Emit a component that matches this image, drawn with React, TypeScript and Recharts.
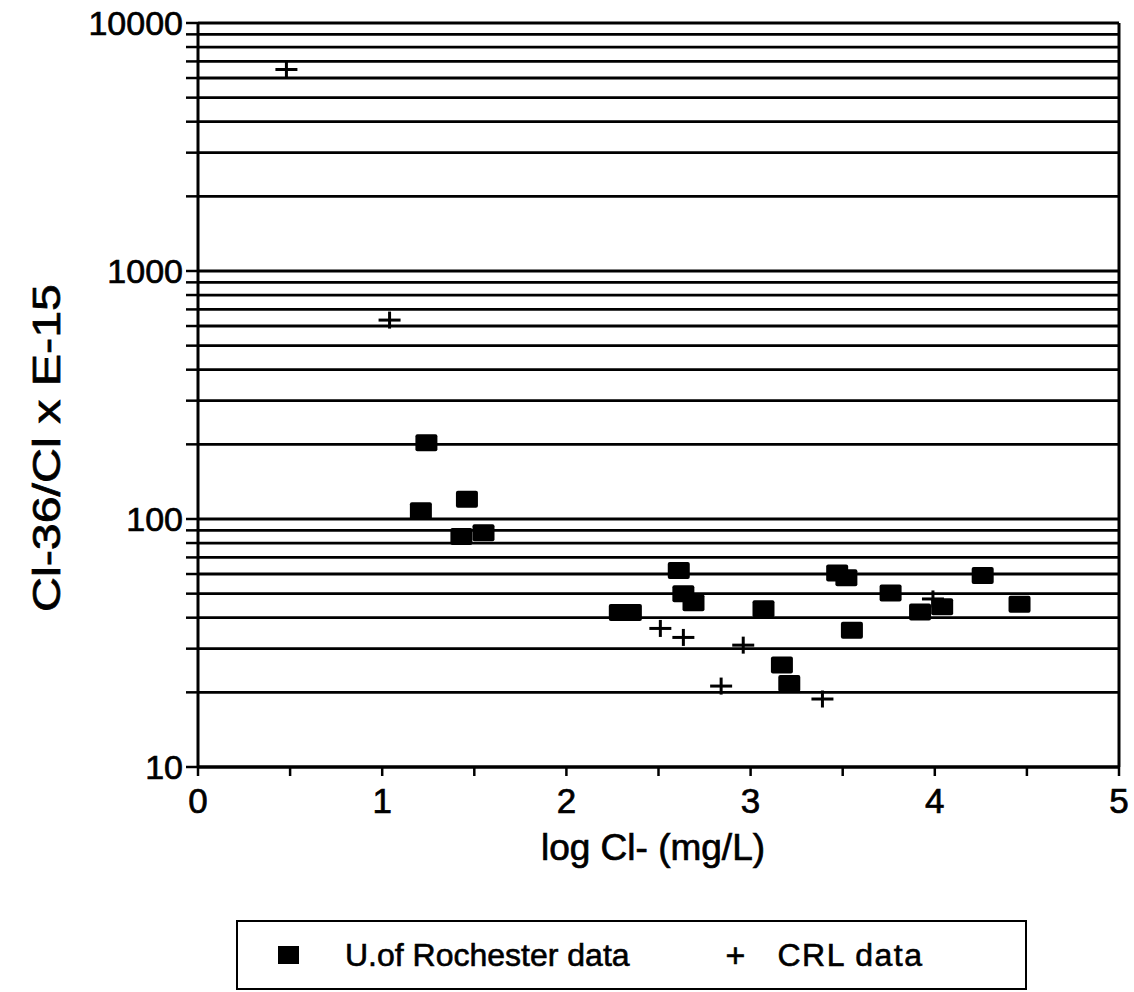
import { ScatterChart, Scatter, XAxis, YAxis, CartesianGrid, ReferenceLine } from "recharts";

// values
const rochesterX = [1.21, 1.24, 1.43, 1.46, 1.55, 2.29, 2.35, 2.61, 2.635, 2.69, 3.07, 3.17, 3.21, 3.47, 3.52, 3.55, 3.76, 3.92, 4.04, 4.26, 4.46];
const rochesterY = [108, 203, 85, 120, 88, 42, 42, 62, 50, 46, 43.5, 25.8, 21.7, 60.5, 58, 35.6, 50.3, 42.2, 44.3, 59.2, 45.3];

const crlX = [0.48, 1.04, 2.51, 2.635, 2.84, 2.96, 3.39, 3.99];
const crlY = [6500, 634, 36.2, 33.3, 21.2, 31, 18.8, 47.6];

const xTicks = [0, 0.5, 1, 1.5, 2, 2.5, 3, 3.5, 4, 4.5, 5];
const yTicks = [
  10, 20, 30, 40, 50, 60, 70, 80, 90,
  100, 200, 300, 400, 500, 600, 700, 800, 900,
  1000, 2000, 3000, 4000, 5000, 6000, 7000, 8000, 9000, 10000,
];
const yLabels = [10, 100, 1000, 10000];

const seriesNames = ["U.of Rochester data", "CRL data"];

const rochester = rochesterX.map((x, i) => ({ x, y: rochesterY[i] }));
const crl = crlX.map((x, i) => ({ x, y: crlY[i] }));

const FONT = "'Liberation Sans', Arial, Helvetica, sans-serif";
// scanned print looks a little heavier than a plain regular weight
const inkStroke = { stroke: "#000", strokeWidth: 0.7 };

const SquareMark = (props: any) => {
  const { cx, cy } = props;
  if (cx == null || cy == null) return null;
  return <rect x={cx - 11} y={cy - 8.5} width={22} height={17} rx={2} fill="#000" />;
};

const CrossMark = (props: any) => {
  const { cx, cy } = props;
  if (cx == null || cy == null) return null;
  return (
    <g stroke="#000" strokeWidth={3}>
      <line x1={cx - 11} y1={cy} x2={cx + 11} y2={cy} />
      <line x1={cx} y1={cy - 8.5} x2={cx} y2={cy + 8.5} />
    </g>
  );
};

export default function App() {
  return (
    <div style={{ position: "absolute", left: 0, top: 0, width: 1134, height: 992, background: "#fff", fontFamily: FONT }}>
      <ScatterChart width={1134} height={900} margin={{ top: 23, right: 15, bottom: 0, left: 0 }}>
        <CartesianGrid vertical={false} stroke="#000" strokeWidth={2.8} strokeOpacity={1} />
        <XAxis
          type="number"
          dataKey="x"
          domain={[0, 5]}
          ticks={xTicks}
          interval={0}
          height={133}
          axisLine={{ stroke: "#000", strokeWidth: 3 }}
          tickLine={{ stroke: "#000", strokeWidth: 2.5 }}
          tickSize={9}
          tickMargin={12}
          tick={{ fill: "#000", fontSize: 35, fontFamily: FONT, ...inkStroke }}
          tickFormatter={(v: number) => (Number.isInteger(v) ? String(v) : "")}
          label={{
            content: () => (
              <text x={653} y={860} textAnchor="middle" fontSize={37} fontFamily={FONT} fill="#000" {...inkStroke}>
                log Cl- (mg/L)
              </text>
            ),
          }}
        />
        <YAxis
          type="number"
          dataKey="y"
          scale="log"
          domain={[10, 10000]}
          allowDataOverflow
          ticks={yTicks}
          interval={0}
          width={198}
          axisLine={{ stroke: "#000", strokeWidth: 3 }}
          tickLine={{ stroke: "#000", strokeWidth: 2.5 }}
          tickSize={12}
          tickMargin={3}
          tick={{ fill: "#000", fontSize: 34, fontFamily: FONT, ...inkStroke }}
          tickFormatter={(v: number) => (yLabels.includes(v) ? String(v) : "")}
          label={{
            content: () => (
              <text
                x={0}
                y={0}
                transform="translate(60, 448) rotate(-90)"
                textAnchor="middle"
                fontSize={39}
                fontFamily={FONT}
                fill="#000"
                textLength={328}
                lengthAdjust="spacingAndGlyphs"
                {...inkStroke}
              >
                Cl-36/Cl x E-15
              </text>
            ),
          }}
        />
        <ReferenceLine x={5} stroke="#000" strokeWidth={3} />
        <Scatter name={seriesNames[1]} data={crl} shape={<CrossMark />} isAnimationActive={false} />
        <Scatter name={seriesNames[0]} data={rochester} shape={<SquareMark />} isAnimationActive={false} />
      </ScatterChart>
      <div
        style={{
          position: "absolute",
          left: 236,
          top: 920,
          width: 787,
          height: 66,
          border: "2px solid #000",
          boxSizing: "content-box",
          display: "flex",
          alignItems: "center",
          fontSize: 32,
          color: "#000",
          WebkitTextStroke: "0.6px #000",
        }}
      >
        <div style={{ width: 21, height: 18, background: "#000", marginLeft: 40 }} />
        <span style={{ marginLeft: 46 }}>{seriesNames[0]}</span>
        <span style={{ marginLeft: 96, fontSize: 34 }}>+</span>
        <span style={{ marginLeft: 32, letterSpacing: 1.5 }}>{seriesNames[1]}</span>
      </div>
    </div>
  );
}
